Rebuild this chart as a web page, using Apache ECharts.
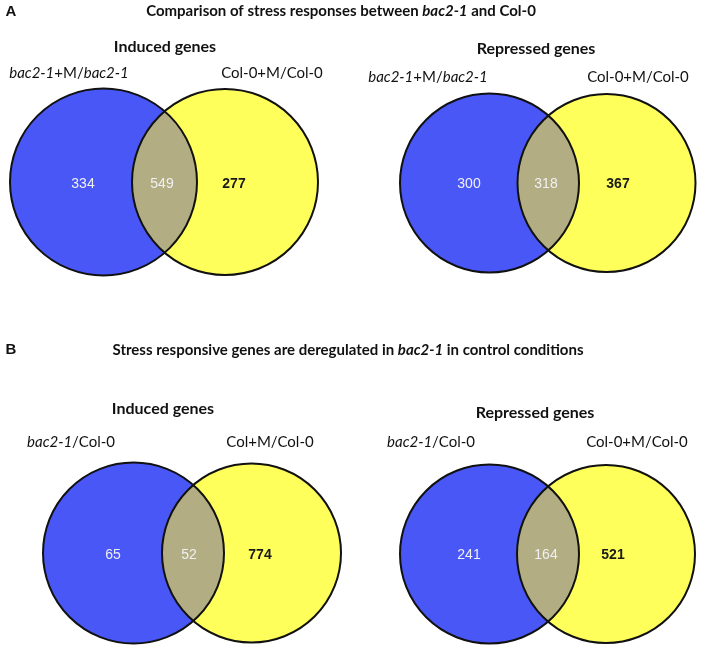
<!DOCTYPE html>
<html><head><meta charset="utf-8">
<script src="https://cdn.jsdelivr.net/npm/echarts@6/dist/echarts.min.js"></script>
<style>html,body{margin:0;padding:0;background:#fff}#c{width:708px;height:647px}</style>
</head><body><div id="c"></div>
<script>
// ---------- data ----------
const panelLetters = ['A', 'B'];
const panelTitles = [
  'Comparison of stress responses between {i|bac2-1} and Col-0',
  'Stress responsive genes are deregulated in {i|bac2-1} in control conditions'
];
const diagramTitles = ['Induced genes', 'Repressed genes', 'Induced genes', 'Repressed genes'];
const leftSetLabels = ['{i|bac2-1}+M/{i|bac2-1}', '{i|bac2-1}+M/{i|bac2-1}', '{i|bac2-1}/Col-0', '{i|bac2-1}/Col-0'];
const rightSetLabels = ['Col-0+M/Col-0', 'Col-0+M/Col-0', 'Col+M/Col-0', 'Col-0+M/Col-0'];
const leftOnly = [334, 300, 65, 241];
const shared = [549, 318, 52, 164];
const rightOnly = [277, 367, 774, 521];

// ---------- layout (in the hidden axes' units) ----------
const W = 708, H = 647;
const circleLayout = [
  { cy: 182, lx: 103.5, lr: 93.5, rx: 225, rr: 93, nx: [83, 162, 234], ny: 184 },
  { cy: 183, lx: 489.5, lr: 89.5, rx: 606.5, rr: 89, nx: [469, 546, 618], ny: 184 },
  { cy: 553, lx: 133.5, lr: 90.5, rx: 251.5, rr: 89.5, nx: [113, 189, 260], ny: 555 },
  { cy: 554, lx: 489.5, lr: 89.5, rx: 606, rr: 89, nx: [469, 546, 613], ny: 555 }
];
const letterPos = [[11, 12], [11, 350]];
const panelTitlePos = [[341, 11], [348, 350]];
const diagramTitlePos = [[165, 47], [536, 49], [163, 409], [535, 413]];
const leftLabelPos = [[69, 73], [428, 77], [71, 442], [431, 442]];
const rightLabelPos = [[272, 73], [638, 77], [270, 442], [637, 442]];

const BLUE = '#4857f6', YELLOW = '#ffff5c', LENS = '#b2ad82', STROKE = '#111111';
const LABEL_FONT = 'Lato, "Open Sans", sans-serif';
const NUM_FONT = '"Liberation Sans", Arial, sans-serif';

// text items built from the arrays above
const textItems = [];
panelLetters.forEach((t, i) => textItems.push({ text: t, pos: letterPos[i], kind: 'letter' }));
panelTitles.forEach((t, i) => textItems.push({ text: t, pos: panelTitlePos[i], kind: 'ptitle' }));
diagramTitles.forEach((t, i) => textItems.push({ text: t, pos: diagramTitlePos[i], kind: 'dtitle' }));
leftSetLabels.forEach((t, i) => textItems.push({ text: t, pos: leftLabelPos[i], kind: 'set' }));
rightSetLabels.forEach((t, i) => textItems.push({ text: t, pos: rightLabelPos[i], kind: 'set' }));

const textStyles = {
  letter: { fontFamily: NUM_FONT, fontSize: 15, fontWeight: 'bold' },
  ptitle: { fontFamily: LABEL_FONT, fontSize: 15, fontWeight: 'bold' },
  dtitle: { fontFamily: LABEL_FONT, fontSize: 16, fontWeight: 'bold' },
  set: { fontFamily: LABEL_FONT, fontSize: 15, fontWeight: 'normal' }
};

const vennData = leftOnly.map((v, i) => [i, v, shared[i], rightOnly[i]]);

function lensPath(api, L) {
  const d = L.rx - L.lx;
  const a = (d * d + L.lr * L.lr - L.rr * L.rr) / (2 * d);
  const h = Math.sqrt(L.lr * L.lr - a * a);
  const top = api.coord([L.lx + a, L.cy - h]);
  const bot = api.coord([L.lx + a, L.cy + h]);
  const r1 = api.size([L.lr, 0])[0], r2 = api.size([L.rr, 0])[0];
  return 'M' + top[0] + ' ' + top[1] +
    ' A' + r2 + ' ' + r2 + ' 0 0 0 ' + bot[0] + ' ' + bot[1] +
    ' A' + r1 + ' ' + r1 + ' 0 0 0 ' + top[0] + ' ' + top[1] + ' Z';
}

const chart = echarts.init(document.getElementById('c'));
chart.setOption({
  backgroundColor: '#ffffff',
  animation: false,
  grid: { left: 0, right: 0, top: 0, bottom: 0 },
  xAxis: { type: 'value', min: 0, max: W, show: false },
  yAxis: { type: 'value', min: 0, max: H, inverse: true, show: false },
  series: [
    {
      type: 'custom',
      data: vennData,
      renderItem: function (params, api) {
        const i = api.value(0);
        const L = circleLayout[i];
        const cl = api.coord([L.lx, L.cy]), cr = api.coord([L.rx, L.cy]);
        const r1 = api.size([L.lr, 0])[0], r2 = api.size([L.rr, 0])[0];
        const nums = [api.value(1), api.value(2), api.value(3)];
        const children = [
          { type: 'circle', shape: { cx: cl[0], cy: cl[1], r: r1 }, style: { fill: BLUE } },
          { type: 'circle', shape: { cx: cr[0], cy: cr[1], r: r2 }, style: { fill: YELLOW } },
          { type: 'path', shape: { pathData: lensPath(api, L) }, style: { fill: LENS } },
          { type: 'circle', shape: { cx: cl[0], cy: cl[1], r: r1 }, style: { fill: 'none', stroke: STROKE, lineWidth: 2 } },
          { type: 'circle', shape: { cx: cr[0], cy: cr[1], r: r2 }, style: { fill: 'none', stroke: STROKE, lineWidth: 2 } }
        ];
        nums.forEach((n, k) => {
          const p = api.coord([L.nx[k], L.ny]);
          children.push({
            type: 'text', x: p[0], y: p[1],
            style: {
              text: String(n), align: 'center', verticalAlign: 'middle',
              fontFamily: NUM_FONT, fontSize: 14,
              fontWeight: k === 2 ? 'bold' : 'normal',
              fill: k === 2 ? '#1a1a1a' : '#f0f0f4'
            }
          });
        });
        return { type: 'group', children: children };
      }
    },
    {
      type: 'custom',
      data: textItems.map((t, i) => [i]),
      renderItem: function (params, api) {
        const t = textItems[api.value(0)];
        const s = textStyles[t.kind];
        const p = api.coord(t.pos);
        return {
          type: 'text', x: p[0], y: p[1],
          style: {
            text: t.text, align: 'center', verticalAlign: 'middle',
            fontFamily: s.fontFamily, fontSize: s.fontSize, fontWeight: s.fontWeight, fill: '#111',
            rich: {
              i: { fontFamily: s.fontFamily, fontSize: s.fontSize, fontWeight: s.fontWeight, fontStyle: 'italic', fill: '#111' }
            }
          }
        };
      }
    }
  ]
});
</script>
</body></html>
